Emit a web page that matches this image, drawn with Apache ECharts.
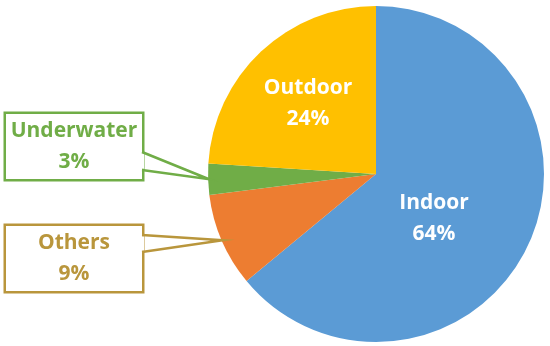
<!DOCTYPE html>
<html><head><meta charset="utf-8">
<script src="https://cdn.jsdelivr.net/npm/echarts@6/dist/echarts.min.js"></script>
<style>html,body{margin:0;padding:0;background:#fff}#c{width:550px;height:346px}</style>
</head><body><div id="c"></div>
<script>
const categories = ['Indoor', 'Others', 'Underwater', 'Outdoor'];
const values = [64, 9, 3, 24];
const sliceColors = ['#5B9BD5', '#ED7D31', '#70AD47', '#FFC000'];
const labelColors = ['#FFFFFF', '#B9963C', '#70AD47', '#FFFFFF'];
const callout = [false, true, true, false];

const CX = 376, CY = 174, R = 168;
const FONT = '"Open Sans", Lato, sans-serif';
// label anchor positions (layout)
const labelPos = [[434, 219], [74, 258.5], [74, 146.5], [308, 104]];
const boxW = 136, boxH = 65;
// callout opening on the box's right side
const openings = [null, [235, 252], [152, 170], null];

const chart = echarts.init(document.getElementById('c'), null, {renderer: 'canvas'});

const data = categories.map((name, i) => {
  const item = {
    name: name,
    value: values[i],
    itemStyle: {color: sliceColors[i]},
    label: {
      show: true,
      formatter: '{b}\n{c}%',
      color: labelColors[i],
      fontFamily: FONT,
      fontWeight: 'bold',
      fontSize: 21,
      lineHeight: 31,
      align: 'center',
      position: callout[i] ? 'outside' : 'inside'
    },
    labelLine: {show: false}
  };
  if (callout[i]) {
    Object.assign(item.label, {
      backgroundColor: '#FFFFFF',
      borderColor: labelColors[i],
      borderWidth: 2.5,
      width: boxW,
      height: boxH,
      padding: 0,
      verticalAlign: 'middle'
    });
  }
  return item;
});

const total = values.reduce((a, b) => a + b, 0);
const graphics = [];
let acc = 0;
values.forEach((v, i) => {
  const mid = (acc + v / 2) / total * 2 * Math.PI;
  acc += v;
  if (!callout[i]) return;
  const tx = CX + (R - 1) * Math.sin(mid);
  const ty = CY - (R - 1) * Math.cos(mid);
  const bx = labelPos[i][0] + boxW / 2;
  const [y1, y2] = openings[i];
  graphics.push({
    type: 'line', z: 100,
    shape: {x1: bx, y1: y1 + 1.2, x2: bx, y2: y2 - 1.2},
    style: {stroke: '#FFFFFF', lineWidth: 4}
  });
  graphics.push({
    type: 'polyline', z: 101,
    shape: {points: [[bx, y1], [tx, ty], [bx, y2]]},
    style: {stroke: labelColors[i], lineWidth: 2.5, fill: null, lineJoin: 'miter'}
  });
});

chart.setOption({
  animation: false,
  backgroundColor: '#FFFFFF',
  graphic: graphics,
  series: [{
    type: 'pie',
    center: [CX, CY],
    radius: [0, R],
    startAngle: 90,
    clockwise: true,
    avoidLabelOverlap: false,
    itemStyle: {borderWidth: 0},
    emphasis: {disabled: true},
    labelLayout: function (params) {
      const p = labelPos[params.dataIndex];
      return {x: p[0], y: p[1], align: 'center', verticalAlign: 'middle'};
    },
    data: data
  }]
});
</script>
</body></html>
